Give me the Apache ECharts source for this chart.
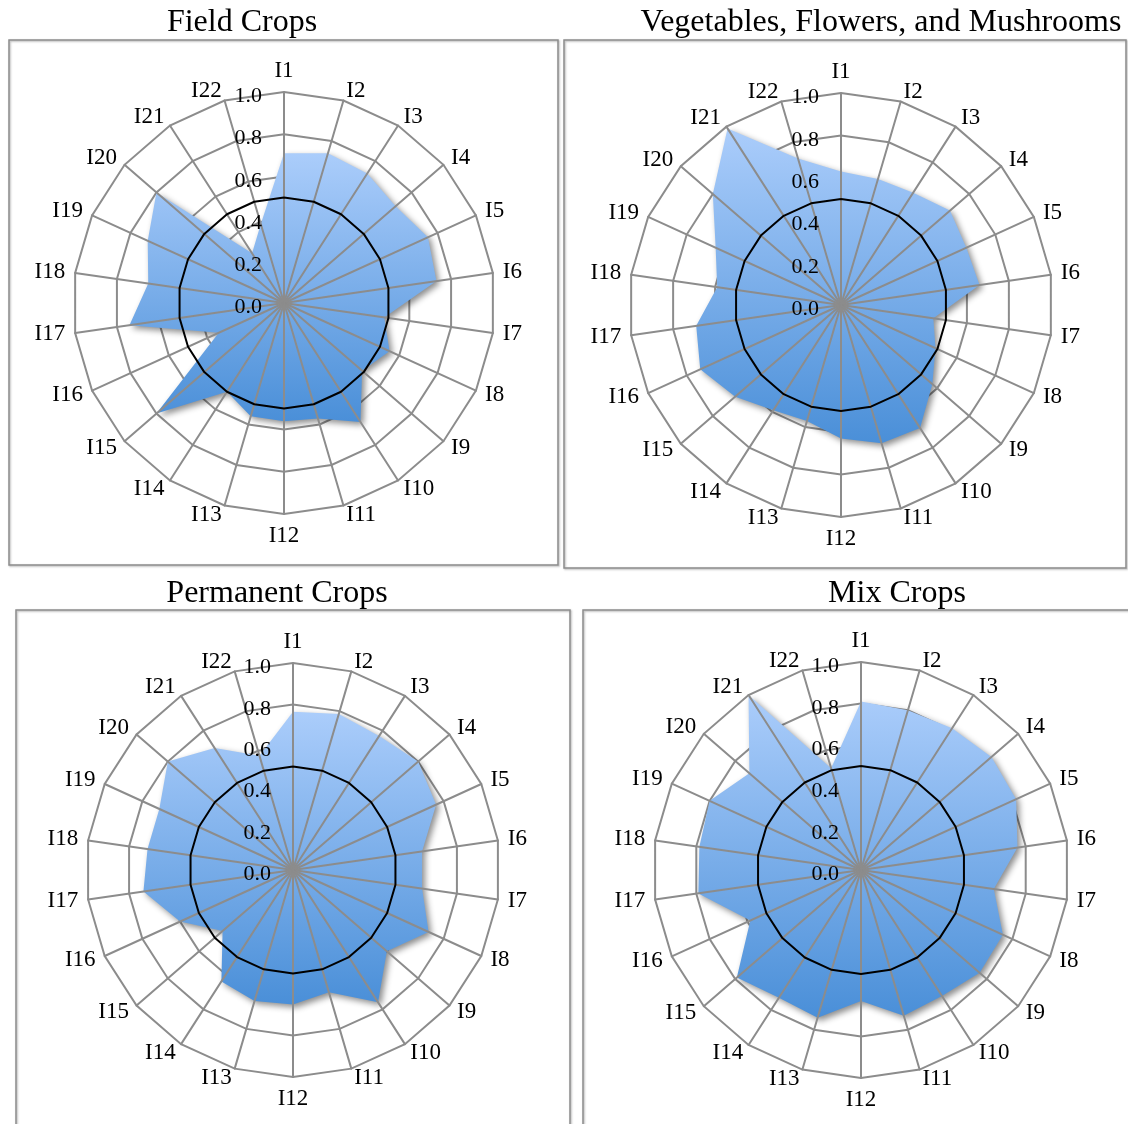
<!DOCTYPE html>
<html>
<head>
<meta charset="utf-8">
<title>Indicator profiles by crop type</title>
<script src="https://cdn.jsdelivr.net/npm/echarts@6/dist/echarts.min.js"></script>
<style>
  html, body { margin: 0; padding: 0; background: #ffffff; }
  #chart { width: 1128px; height: 1124px; }
</style>
</head>
<body>
<div id="chart"></div>
<script>
// Indicator names, listed clockwise from the top
const indicators = ['I1', 'I2', 'I3', 'I4', 'I5', 'I6', 'I7', 'I8', 'I9', 'I10', 'I11',
                    'I12', 'I13', 'I14', 'I15', 'I16', 'I17', 'I18', 'I19', 'I20', 'I21', 'I22'];

// Panel titles
const panelTitles = ['Field Crops', 'Vegetables, Flowers, and Mushrooms', 'Permanent Crops', 'Mix Crops'];

// Scores per indicator (I1..I22) for each crop type
const fieldCrops = [0.71, 0.74, 0.73, 0.70, 0.75, 0.73, 0.48, 0.55, 0.49, 0.67, 0.57,
                    0.56, 0.56, 0.50, 0.80, 0.34, 0.74, 0.65, 0.71, 0.80, 0.28, 0.39];
const vegetables = [0.63, 0.62, 0.63, 0.68, 0.65, 0.66, 0.44, 0.49, 0.57, 0.69, 0.68,
                    0.63, 0.57, 0.59, 0.66, 0.73, 0.69, 0.59, 0.65, 0.80, 0.99, 0.72];
const permanentCrops = [0.765, 0.785, 0.77, 0.80, 0.76, 0.63, 0.63, 0.72, 0.60, 0.76, 0.615,
                        0.65, 0.66, 0.64, 0.45, 0.60, 0.73, 0.71, 0.71, 0.80, 0.70, 0.575];
const mixCrops = [0.81, 0.80, 0.81, 0.83, 0.82, 0.76, 0.645, 0.75, 0.755, 0.72, 0.73,
                  0.63, 0.74, 0.73, 0.79, 0.585, 0.79, 0.785, 0.80, 0.71, 1.0, 0.51];

// Reference level drawn as the black ring
const referenceLevel = [0.5, 0.5, 0.5, 0.5, 0.5, 0.5, 0.5, 0.5, 0.5, 0.5, 0.5,
                        0.5, 0.5, 0.5, 0.5, 0.5, 0.5, 0.5, 0.5, 0.5, 0.5, 0.5];

// Radial scale
const scaleMin = 0;
const scaleMax = 1;
const scaleSteps = 5;

const seriesValues = [fieldCrops, vegetables, permanentCrops, mixCrops];

// ECharts lays radar indicators out counter-clockwise, so keep I1 on top
// and feed the rest in reverse to read clockwise.
const order = [0].concat(indicators.map(function (_, i) { return i; }).slice(1).reverse());
function clockwise(arr) { return order.map(function (k) { return arr[k]; }); }

// Panel layout: radar centre/radius, frame rectangle and title anchor
const panels = [
  { center: [284, 303], radius: 211, frame: [9, 40, 549, 525],   titleAt: [242, 23] },
  { center: [841, 305], radius: 212, frame: [564, 40, 562, 528], titleAt: [881, 23] },
  { center: [293, 870], radius: 207, frame: [16, 610, 554, 530], titleAt: [277, 594] },
  { center: [861, 870], radius: 208, frame: [583, 610, 560, 530], titleAt: [897, 594] }
];

const FONT = '"Liberation Serif", "Times New Roman", serif';
const GRID = '#8c8c8c';

function indicatorList(withLabel) {
  return clockwise(indicators).map(function (name, i) {
    const ind = { name: name, min: scaleMin, max: scaleMax };
    if (withLabel && i === 0) ind.axisLabel = { show: true };
    return ind;
  });
}

// Rings sit under the filled area.
function ringLayer(p) {
  return {
    center: p.center,
    radius: p.radius,
    startAngle: 90,
    shape: 'polygon',
    splitNumber: scaleSteps,
    z: 1,
    indicator: indicatorList(false),
    axisName: { show: false },
    axisLine: { show: false },
    splitLine: { lineStyle: { color: GRID, width: 2 } },
    splitArea: { show: false },
    axisTick: { show: false },
    axisLabel: { show: false }
  };
}

// Spokes, indicator names and the value labels sit over the filled area.
function spokeLayer(p) {
  return {
    center: p.center,
    radius: p.radius,
    startAngle: 90,
    shape: 'polygon',
    splitNumber: scaleSteps,
    z: 3,
    nameGap: 10,
    axisName: { color: '#000', fontFamily: FONT, fontSize: 23 },
    indicator: indicatorList(true),
    axisLine: { lineStyle: { color: GRID, width: 2 } },
    splitLine: { show: false },
    splitArea: { show: false },
    axisTick: { show: false },
    axisLabel: {
      show: false,
      color: '#000',
      fontFamily: FONT,
      fontSize: 22,
      margin: 22,
      formatter: function (v) { return '{t|' + Number(v).toFixed(1) + '}'; },
      rich: {
        t: { color: '#000', fontFamily: FONT, fontSize: 22, padding: [9, 0, 0, 0] }
      }
    }
  };
}

const fillGradient = new echarts.graphic.LinearGradient(0, 0, 0, 1, [
  { offset: 0, color: '#abcdfb' },
  { offset: 1, color: '#4a8fd8' }
]);

// radar 0..3: rings, radar 4..7: spokes
const radars = panels.map(ringLayer).concat(panels.map(spokeLayer));
const series = [];
seriesValues.forEach(function (vals, i) {
  series.push({
    type: 'radar',
    radarIndex: i,
    z: 2,
    silent: true,
    symbol: 'none',
    lineStyle: { width: 0, opacity: 0 },
    areaStyle: {
      color: fillGradient,
      opacity: 1,
      shadowBlur: 6,
      shadowOffsetX: 3,
      shadowOffsetY: 3,
      shadowColor: 'rgba(0,0,0,0.45)'
    },
    data: [{ value: clockwise(vals), name: panelTitles[i] }]
  });
  series.push({
    type: 'radar',
    radarIndex: i,
    z: 4,
    silent: true,
    symbol: 'none',
    lineStyle: { color: '#000', width: 2 },
    data: [{ value: clockwise(referenceLevel) }]
  });
});

const graphics = [];
panels.forEach(function (p, i) {
  graphics.push({
    type: 'rect',
    silent: true,
    z: -1,
    shape: { x: p.frame[0], y: p.frame[1], width: p.frame[2], height: p.frame[3] },
    style: {
      fill: 'none', stroke: '#8c8c8c', lineWidth: 1.5,
      shadowBlur: 2, shadowOffsetX: 1, shadowOffsetY: 1, shadowColor: 'rgba(0,0,0,0.3)'
    }
  });
  graphics.push({
    type: 'text',
    silent: true,
    x: p.titleAt[0],
    y: p.titleAt[1],
    style: {
      text: panelTitles[i],
      fill: '#000',
      font: '32px ' + FONT,
      textAlign: 'center',
      textVerticalAlign: 'middle'
    }
  });
});

const chart = echarts.init(document.getElementById('chart'), null, { renderer: 'canvas' });
chart.setOption({
  backgroundColor: '#ffffff',
  animation: false,
  radar: radars,
  series: series,
  graphic: graphics
});
</script>
</body>
</html>
